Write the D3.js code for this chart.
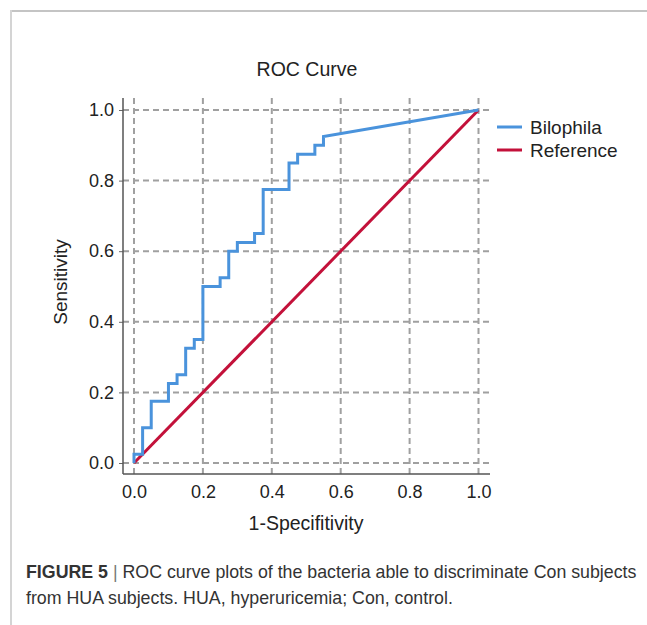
<!DOCTYPE html>
<html><head><meta charset="utf-8">
<script src="https://cdn.jsdelivr.net/npm/d3@7"></script>
<style>body{margin:0;background:#fff}svg{display:block}</style>
</head><body>
<svg id="c" width="647" height="625"></svg>
<script>
const fpr = [0,0,0.025,0.025,0.05,0.05,0.1,0.1,0.125,0.125,0.15,0.15,0.175,0.175,0.2,0.2,0.25,0.25,0.275,0.275,0.3,0.3,0.35,0.35,0.375,0.375,0.45,0.45,0.475,0.475,0.525,0.525,0.55,0.55,1];
const tpr = [0,0.025,0.025,0.1,0.1,0.175,0.175,0.225,0.225,0.25,0.25,0.325,0.325,0.35,0.35,0.5,0.5,0.525,0.525,0.6,0.6,0.625,0.625,0.65,0.65,0.775,0.775,0.85,0.85,0.875,0.875,0.9,0.9,0.925,1];
const refX = [0,1];
const refY = [0,1];
const ticks = [0,0.2,0.4,0.6,0.8,1.0];
const seriesNames = ["Bilophila","Reference"];
const colors = ["#4a93dc","#c3113a"];

(function(){
const svg = d3.select("#c");
const font = "Liberation Sans, Arial, sans-serif";

// frame
svg.append("line").attr("x1",11).attr("x2",647).attr("y1",11).attr("y2",11).attr("stroke","#c4c4c4").attr("stroke-width",2);
svg.append("line").attr("x1",11).attr("x2",11).attr("y1",10).attr("y2",625).attr("stroke","#d4d4d4").attr("stroke-width",2);

const x = d3.scaleLinear().domain([0,1]).range([134,478.5]);
const y = d3.scaleLinear().domain([0,1]).range([463,110]);
const pLeft = 123, pBottom = 474, pTop = 98, pRight = 490;

// grid
const g = svg.append("g");
g.selectAll(".vg").data(ticks).join("line")
  .attr("x1",d=>x(d)).attr("x2",d=>x(d)).attr("y1",pTop).attr("y2",pBottom)
  .attr("stroke","#a0a0a0").attr("stroke-width",2).attr("stroke-dasharray","6,4");
g.selectAll(".hg").data(ticks).join("line")
  .attr("x1",pLeft).attr("x2",pRight).attr("y1",d=>y(d)).attr("y2",d=>y(d))
  .attr("stroke","#a0a0a0").attr("stroke-width",2).attr("stroke-dasharray","6,4");

// axes
const fmt = d3.format(".1f");
const xa = svg.append("g").attr("transform",`translate(0,${pBottom})`)
  .call(d3.axisBottom(x).tickValues(ticks).tickFormat(fmt).tickSize(0).tickPadding(11));
xa.select(".domain").remove();
svg.append("line").attr("x1",pLeft).attr("x2",pRight).attr("y1",pBottom).attr("y2",pBottom).attr("stroke","#555").attr("stroke-width",1.5);
const ya = svg.append("g").attr("transform",`translate(${pLeft},0)`)
  .call(d3.axisLeft(y).tickValues(ticks).tickFormat(fmt).tickSize(4).tickPadding(5));
ya.select(".domain").remove();
ya.selectAll(".tick line").attr("stroke","#666");
svg.append("line").attr("x1",pLeft).attr("x2",pLeft).attr("y1",pTop).attr("y2",pBottom).attr("stroke","#555").attr("stroke-width",1.5);
svg.selectAll(".tick text").attr("font-family",font).attr("font-size",18).attr("fill","#222");

// lines
const line = d3.line().x(d=>x(d[0])).y(d=>y(d[1]));
svg.append("path").datum(refX.map((v,i)=>[v,refY[i]])).attr("d",line)
  .attr("fill","none").attr("stroke",colors[1]).attr("stroke-width",3);
svg.append("path").datum(fpr.map((v,i)=>[v,tpr[i]])).attr("d",line)
  .attr("fill","none").attr("stroke",colors[0]).attr("stroke-width",3).attr("stroke-linejoin","miter");

// title & labels
svg.append("text").attr("x",307).attr("y",76).attr("text-anchor","middle")
  .attr("font-family",font).attr("font-size",19.5).attr("fill","#222").text("ROC Curve");
svg.append("text").attr("x",306).attr("y",530).attr("text-anchor","middle")
  .attr("font-family",font).attr("font-size",19.5).attr("fill","#222").text("1-Specifitivity");
svg.append("text").attr("transform","translate(67,282) rotate(-90)").attr("text-anchor","middle")
  .attr("font-family",font).attr("font-size",19).attr("fill","#222").text("Sensitivity");

// legend
const lg = svg.append("g");
seriesNames.forEach((n,i)=>{
  const ly = 127 + i*23;
  lg.append("line").attr("x1",497).attr("x2",522).attr("y1",ly).attr("y2",ly).attr("stroke",colors[i]).attr("stroke-width",3);
  lg.append("text").attr("x",530).attr("y",ly+7).attr("font-family",font).attr("font-size",19).attr("fill","#222").text(n);
});

// caption
const cap = svg.append("text").attr("x",26).attr("y",578).attr("font-family",font).attr("font-size",17.8).attr("fill","#333");
cap.append("tspan").attr("font-weight","bold").text("FIGURE 5");
cap.append("tspan").attr("fill","#777").text(" | ");
cap.append("tspan").text("ROC curve plots of the bacteria able to discriminate Con subjects");
svg.append("text").attr("x",26).attr("y",604).attr("font-family",font).attr("font-size",17.8).attr("fill","#333")
  .text("from HUA subjects. HUA, hyperuricemia; Con, control.");
})();
</script>
</body></html>
